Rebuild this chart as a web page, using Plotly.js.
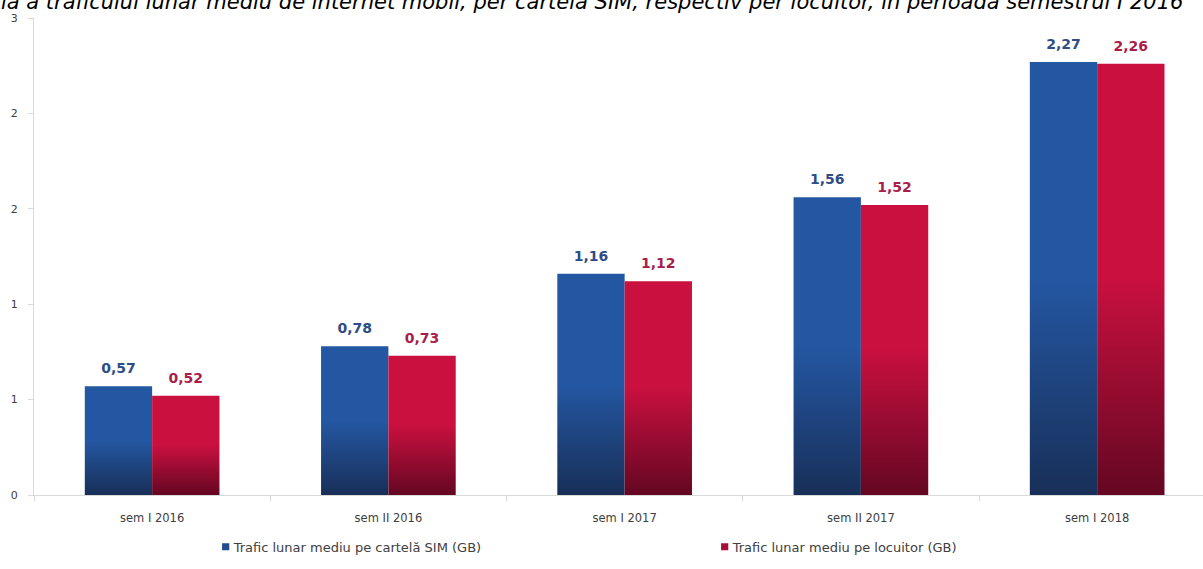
<!DOCTYPE html>
<html>
<head>
<meta charset="utf-8">
<script src="https://cdn.plot.ly/plotly-3.0.1.min.js"></script>
<style>
  html, body { margin: 0; padding: 0; background: #ffffff; overflow: hidden; }
  #chart { width: 1203px; height: 569px; }
</style>
</head>
<body>
<div id="chart"></div>
<script>
// ---- data ----
const categories = ["sem I 2016", "sem II 2016", "sem I 2017", "sem II 2017", "sem I 2018"];
const seriesNames = ["Trafic lunar mediu pe cartelă SIM (GB)", "Trafic lunar mediu pe locuitor (GB)"];
const simValues = [0.57, 0.78, 1.16, 1.56, 2.27];
const locuitorValues = [0.52, 0.73, 1.12, 1.52, 2.26];
const yTickValues = [0, 0.5, 1, 1.5, 2, 2.5];
const yTickLabels = ["0", "1", "1", "2", "2", "3"];
const titleText = "Evoluția a traficului lunar mediu de internet mobil, per cartelă SIM, respectiv per locuitor, în perioada semestrul I 2016";

const fmt = v => v.toFixed(2).replace(".", ",");
const FONT = "DejaVu Sans, Verdana, sans-serif";

const traces = [
  {
    type: "bar", name: seriesNames[0], x: categories, y: simValues,
    text: simValues.map(fmt), textposition: "outside", cliponaxis: false,
    textfont: { family: FONT, size: 14, color: "#2E4D86", weight: "bold" },
    marker: { color: "#214C8E" }, hoverinfo: "skip"
  },
  {
    type: "bar", name: seriesNames[1], x: categories, y: locuitorValues,
    text: locuitorValues.map(fmt), textposition: "outside", cliponaxis: false,
    textfont: { family: FONT, size: 14, color: "#A81E48", weight: "bold" },
    marker: { color: "#A80C38" }, hoverinfo: "skip"
  }
];

const layout = {
  width: 1203, height: 569,
  margin: { l: 34, r: 0, t: 18, b: 74 },
  paper_bgcolor: "#ffffff", plot_bgcolor: "#ffffff",
  font: { family: FONT, color: "#404040" },
  barmode: "group", bargap: 0.43, bargroupgap: 0,
  showlegend: true,
  legend: {
    orientation: "h", xref: "container", yref: "container",
    x: 0.161, xanchor: "left", y: 0.039, yanchor: "middle",
    entrywidth: 454, entrywidthmode: "pixels",
    font: { family: FONT, size: 13, color: "#404040" },
    itemwidth: 30, traceorder: "normal"
  },
  xaxis: {
    type: "category", range: [-0.5, 4.448],
    showline: true, linecolor: "#D9D9D9", linewidth: 1,
    ticks: "outside", tickson: "boundaries", ticklen: 5, tickcolor: "#D9D9D9",
    ticklabelstandoff: 12,
    showgrid: false, zeroline: false,
    tickfont: { family: FONT, size: 11.5, color: "#404040" }
  },
  yaxis: {
    range: [0, 2.5], tickmode: "array", tickvals: yTickValues, ticktext: yTickLabels,
    showline: true, linecolor: "#D9D9D9", linewidth: 1,
    ticks: "outside", ticklen: 5, tickcolor: "#D9D9D9",
    ticklabelstandoff: 8,
    showgrid: false, zeroline: false,
    tickfont: { family: FONT, size: 11, color: "#404040" }
  },
  annotations: [{
    text: titleText, xref: "paper", yref: "paper",
    x: 0.9846, xanchor: "right", y: 1.0325, yanchor: "middle",
    showarrow: false,
    font: { family: FONT, size: 21, color: "#000000", style: "italic" }
  }]
};

Plotly.newPlot("chart", traces, layout, { staticPlot: true, displayModeBar: false }).then(gd => {
  const svg = gd.querySelector("svg.main-svg");
  const ns = "http://www.w3.org/2000/svg";
  let defs = svg.querySelector("defs");
  if (!defs) { defs = document.createElementNS(ns, "defs"); svg.insertBefore(defs, svg.firstChild); }
  const grads = [
    { id: "gBlue", top: "#2457A2", bottom: "#182F58" },
    { id: "gRed", top: "#C9103F", bottom: "#640722" }
  ];
  grads.forEach(g => {
    const lg = document.createElementNS(ns, "linearGradient");
    lg.setAttribute("id", g.id);
    lg.setAttribute("x1", "0"); lg.setAttribute("y1", "0");
    lg.setAttribute("x2", "0"); lg.setAttribute("y2", "1");
    [["0", g.top], ["0.5", g.top], ["1", g.bottom]].forEach(([o, c]) => {
      const s = document.createElementNS(ns, "stop");
      s.setAttribute("offset", o); s.setAttribute("stop-color", c);
      lg.appendChild(s);
    });
    defs.appendChild(lg);
  });
  gd.querySelectorAll(".barlayer .trace.bars").forEach((t, i) => {
    t.querySelectorAll(".point path").forEach(p => {
      p.style.fill = "url(#" + grads[i].id + ")";
    });
    t.querySelectorAll(".bartext").forEach(tx => {
      const tr = tx.getAttribute("transform") || "";
      tx.setAttribute("transform", "translate(0,-7) " + tr);
    });
  });
  gd.querySelectorAll(".legend .legendpoints path").forEach(p => {
    const tr = p.getAttribute("transform") || "";
    p.setAttribute("transform", "translate(12,0) " + tr + " scale(0.6)");
  });
});
</script>
</body>
</html>
